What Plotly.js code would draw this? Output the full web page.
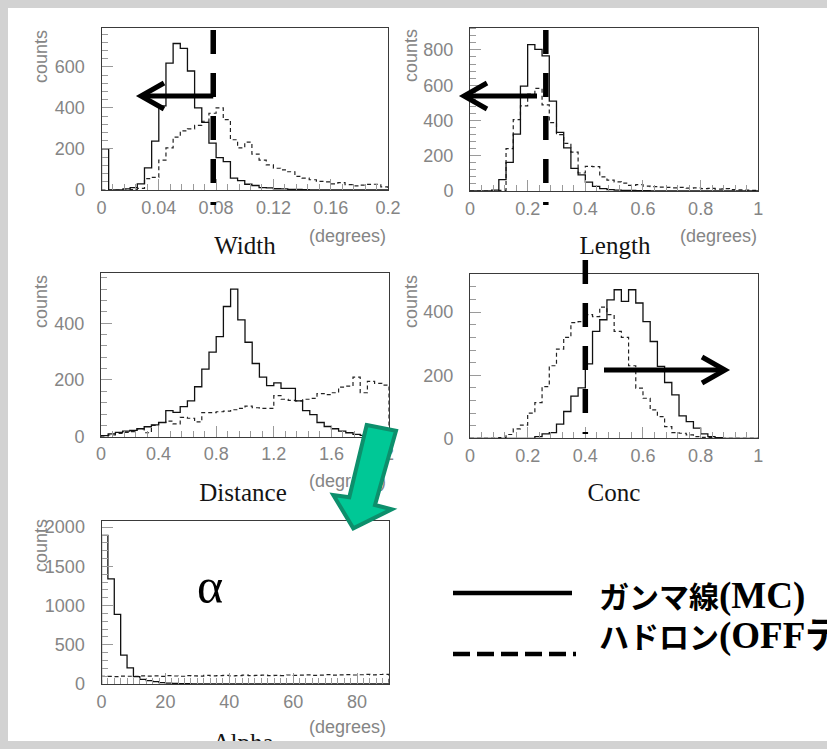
<!DOCTYPE html>
<html>
<head>
<meta charset="utf-8">
<script src="https://cdn.plot.ly/plotly-3.0.1.min.js"></script>
<style>
html,body{margin:0;padding:0;background:#ffffff;overflow:hidden;}
#chart{width:827px;height:749px;}
</style>
</head>
<body>
<div id="chart"></div>
<script>
// ---------------- data ----------------
const panelNames = ['Width', 'Length', 'Distance', 'Conc', 'Alpha'];
const xAxisMax   = [0.2, 1, 2, 1, 90];
const binWidths  = [0.005, 0.025, 0.05, 0.025, 2];
const yAxisMax   = [792, 926, 576, 521, 2085];
const xTickStep  = [0.04, 0.2, 0.4, 0.2, 20];
const xMinorStep = [0.008, 0.04, 0.08, 0.04, 2];
const yTickStep  = [200, 200, 200, 200, 500];
const yMinorStep = [40, 40, 40, 40, 100];
const unitLabel  = '(degrees)';
const yAxisLabel = 'counts';
const seriesNames = ['ガンマ線(MC)', 'ハドロン(OFFデータ)'];
const cutValues = {Width: 0.078, Length: 0.263, Conc: 0.4};

const widthGamma  = [200,0,0,5,12,30,108,238,410,618,714,690,580,400,330,228,158,138,58,46,28,22,12,10,6,5,3,3,2,1,1,0,0,0,0,0,0,0,0,0];
const widthHadron = [0,0,0,0,2,8,55,62,146,205,258,288,298,315,335,374,400,343,245,205,233,175,146,122,106,98,89,66,58,50,42,40,30,36,26,20,24,27,28,15];

const lengthGamma  = [0,0,0,5,65,162,322,595,830,803,766,510,332,245,128,92,50,26,13,8,5,4,3,2,2,1,1,1,0,0,0,0,0,0,0,0,0,0,0,0];
const lengthHadron = [0,0,0,0,3,240,405,483,550,582,488,388,320,270,220,102,140,138,80,62,52,45,32,36,28,25,22,20,18,20,16,18,14,15,11,13,8,6,5,4];

const distanceGamma  = [4,10,15,20,22,28,35,42,50,92,86,106,126,176,238,298,353,459,520,412,333,258,210,180,190,170,170,126,92,78,50,36,28,20,14,8,5,3,2,1];
const distanceHadron = [2,6,12,15,18,28,14,40,50,55,45,68,65,52,85,85,88,90,95,100,108,102,100,100,145,132,128,126,132,135,152,148,155,175,178,210,155,195,188,182];

const concGamma  = [0,0,0,0,0,0,0,0,0,5,14,18,45,85,134,160,236,339,376,439,471,434,471,429,370,307,228,177,138,71,53,32,14,5,2,0,0,0,0,0];
const concHadron = [0,0,0,0,2,12,30,42,80,113,164,230,283,320,367,370,392,386,416,392,339,320,230,159,127,90,69,37,18,16,11,5,3,2,0,0,0,0,0,0];

const alphaGamma  = [1896,1340,887,369,205,93,58,42,30,18,12,8,5,3,2,1,1,0,0,0,0,0,0,0,0,0,0,0,0,0,0,0,0,0,0,0,0,0,0,0,0,0,0,0,0];
const alphaHadron = [96,98,94,101,99,97,104,100,103,98,106,102,99,107,104,101,109,103,106,110,104,108,112,106,109,113,107,111,108,115,110,113,117,111,114,119,112,116,120,115,118,122,117,121,124];

const gammaSeries  = [widthGamma, lengthGamma, distanceGamma, concGamma, alphaGamma];
const hadronSeries = [widthHadron, lengthHadron, distanceHadron, concHadron, alphaHadron];

// ---------------- layout geometry (pixels) ----------------
const W = 827, H = 749;
const boxes = [           // [left, top, right, bottom] of each frame in pixels
  [101.5, 27.5, 388, 190],
  [470, 27.7, 758.3, 191],
  [101, 273.3, 389, 436.7],
  [470, 274, 758.3, 438.3],
  [101.5, 520.5, 389, 684]
];

function stepXY(vals, bw) {
  const xs = [0], ys = [0];
  vals.forEach((v, i) => { xs.push(i * bw); ys.push(v); });
  xs.push(vals.length * bw); ys.push(vals[vals.length - 1]);
  xs.push(vals.length * bw); ys.push(0);
  return {xs, ys};
}

const tickFont = {family: 'Liberation Sans, Arial, sans-serif', size: 18, color: '#858585'};
const traces = [];
const layout = {
  width: W, height: H, autosize: false,
  margin: {l: 0, r: 0, t: 0, b: 0, pad: 0},
  paper_bgcolor: '#ffffff', plot_bgcolor: 'rgba(0,0,0,0)',
  showlegend: false,
  annotations: [], shapes: []
};

panelNames.forEach((name, i) => {
  const s = i === 0 ? '' : String(i + 1);
  const b = boxes[i];
  const common = {
    showline: true, mirror: true, linecolor: '#3a3a3a', linewidth: 1,
    ticks: 'inside', ticklen: 11, tickcolor: '#9a9a9a', tickwidth: 1,
    showgrid: false, zeroline: false, tickfont: tickFont, fixedrange: true, tick0: 0
  };
  layout['xaxis' + s] = Object.assign({}, common, {
    domain: [b[0] / W, b[2] / W], range: [0, xAxisMax[i]], anchor: 'y' + s,
    dtick: xTickStep[i], ticklabelstandoff: 1,
    minor: {dtick: xMinorStep[i], ticks: 'inside', ticklen: 6, tickcolor: '#9a9a9a', tickwidth: 1}
  });
  layout['yaxis' + s] = Object.assign({}, common, {
    domain: [1 - b[3] / H, 1 - b[1] / H], range: [0, yAxisMax[i]], anchor: 'x' + s,
    dtick: yTickStep[i], ticklabelstandoff: 12,
    minor: {dtick: yMinorStep[i], ticks: 'inside', ticklen: 6, tickcolor: '#9a9a9a', tickwidth: 1}
  });
  const g = stepXY(gammaSeries[i], binWidths[i]);
  const h = stepXY(hadronSeries[i], binWidths[i]);
  traces.push({type: 'scatter', mode: 'lines', name: seriesNames[1], x: h.xs, y: h.ys,
    xaxis: 'x' + s, yaxis: 'y' + s, line: {shape: 'hv', color: '#222', width: 1.2, dash: '4px,3px'}, hoverinfo: 'skip'});
  traces.push({type: 'scatter', mode: 'lines', name: seriesNames[0], x: g.xs, y: g.ys,
    xaxis: 'x' + s, yaxis: 'y' + s, line: {shape: 'hv', color: '#111', width: 1.3}, hoverinfo: 'skip'});
});

// overlay axes spanning the page in pixel units (for decorations)
layout.xaxis6 = {domain: [0, 1], range: [0, W], anchor: 'y6', visible: false, fixedrange: true};
layout.yaxis6 = {domain: [0, 1], range: [H, 0], anchor: 'x6', visible: false, fixedrange: true};

// "counts" axis titles
const countsPos = [[41, 57], [411, 56], [41, 302], [411, 302], [41, 546]];
countsPos.forEach(p => layout.annotations.push({
  xref: 'x6', yref: 'y6', x: p[0], y: p[1], text: yAxisLabel, textangle: -90,
  showarrow: false, xanchor: 'center', yanchor: 'middle', font: tickFont
}));

// panel titles (serif)
const titleFont = {family: 'Liberation Serif, Times New Roman, serif', size: 25, color: '#141414'};
const titlePos = [[245, 248], [615, 248], [243, 495], [614, 495], [243, 745]];
const unitPos = [[386, 237], [757, 237], [386, 482], [386, 728]];

// text traces (drawn below the decoration shapes)
unitPos.forEach(p => traces.push({type: 'scatter', mode: 'text', x: [p[0]], y: [p[1]], text: [unitLabel],
  textposition: 'middle left', textfont: tickFont, xaxis: 'x6', yaxis: 'y6', hoverinfo: 'skip'}));
titlePos.forEach((p, i) => traces.push({type: 'scatter', mode: 'text', x: [p[0]], y: [p[1]], text: [panelNames[i]],
  textposition: 'middle center', textfont: titleFont, xaxis: 'x6', yaxis: 'y6', hoverinfo: 'skip'}));

// alpha symbol
layout.annotations.push({xref: 'x6', yref: 'y6', x: 210, y: 586, text: 'α', showarrow: false,
  xanchor: 'center', yanchor: 'middle', font: {family: 'Liberation Serif, serif', size: 50, color: '#000'}});

// legend text (Latin part in a larger serif)
const legFont = {family: 'Liberation Serif, "Noto Sans CJK JP", serif', size: 30, color: '#000', weight: 'bold'};
function legendLabel(name) {
  return name.replace(/\((.*)\)/, '<span style="font-size:37px">($1)</span>');
}
layout.annotations.push({xref: 'x6', yref: 'y6', x: 597, y: 596, text: legendLabel(seriesNames[0]), showarrow: false,
  xanchor: 'left', yanchor: 'middle', font: legFont});
layout.annotations.push({xref: 'x6', yref: 'y6', x: 597, y: 635, text: legendLabel(seriesNames[1]), showarrow: false,
  xanchor: 'left', yanchor: 'middle', font: legFont});

// helper: value -> pixel x for panel i
function valToPx(i, v) { const b = boxes[i]; return b[0] + v / xAxisMax[i] * (b[2] - b[0]); }

function addLine(x0, y0, x1, y1, w, dash) {
  layout.shapes.push({type: 'line', xref: 'x6', yref: 'y6', x0, y0, x1, y1, layer: 'above',
    line: {color: '#000', width: w, dash: dash || 'solid'}});
}
function addPath(d, w) {
  layout.shapes.push({type: 'path', xref: 'x6', yref: 'y6', path: d, layer: 'above',
    line: {color: '#000', width: w}});
}

// cut lines
const cutDash = '24px,19px';
const xw = valToPx(0, cutValues.Width), xl = valToPx(1, cutValues.Length), xc = valToPx(3, cutValues.Conc);
addLine(xw, 30, xw, 205, 5.5, cutDash);
addLine(xl, 30, xl, 205, 5.5, cutDash);
addLine(xc, 260, xc, 434, 5.5, cutDash);

// direction arrows
addLine(xw, 96, 141, 96, 5);
addPath('M 164 83 L 141 96 L 164 109', 5);
addLine(537, 96, 464, 96, 5);
addPath('M 487 83 L 464 96 L 487 109', 5);
addLine(604, 370, 725, 370, 5);
addPath('M 702 357 L 725 370 L 702 383', 5);

// legend samples
addLine(453, 593, 572, 593, 4.5);
addLine(453, 654, 576, 654, 4.5, '17px,7px');

// green arrow
layout.shapes.push({type: 'path', xref: 'x6', yref: 'y6', layer: 'above',
  path: 'M 366.7 425 L 396 430.7 L 375 505 L 391.7 509.3 L 353.3 528.3 L 333.3 495 L 349.3 497.3 Z',
  fillcolor: '#00c896', line: {color: '#0d8f6c', width: 4}});

// page border
const borderColor = '#d2d2d2';
[[0, 0, W, 8], [0, 0, 8, H], [0, 741, W, H]].forEach(r => layout.shapes.push({
  type: 'rect', xref: 'x6', yref: 'y6', x0: r[0], y0: r[1], x1: r[2], y1: r[3], layer: 'above',
  fillcolor: borderColor, line: {width: 0}}));

Plotly.newPlot('chart', traces, layout, {displayModeBar: false, staticPlot: true});
</script>
</body>
</html>
